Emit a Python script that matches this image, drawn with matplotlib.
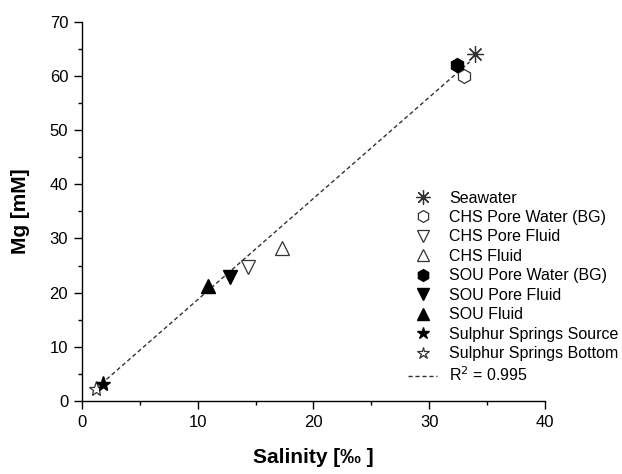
import numpy as np
import matplotlib.pyplot as plt
from matplotlib.ticker import MultipleLocator

plt.rcParams['font.family'] = ['Liberation Sans', 'DejaVu Sans']

# data (salinity in permil, Mg in mM)
labels = ['Seawater', 'CHS Pore Water (BG)', 'CHS Pore Fluid', 'CHS Fluid',
          'SOU Pore Water (BG)', 'SOU Pore Fluid', 'SOU Fluid',
          'Sulphur Springs Source', 'Sulphur Springs Bottom']
salinity = [34.0, 33.0, 14.3, 17.3, 32.4, 12.8, 10.9, 1.8, 1.2]
mg = [64.0, 60.0, 24.8, 28.2, 62.1, 22.8, 21.2, 3.1, 2.2]

# regression line end points
fit_x = [1.2, 33.5]
fit_y = [2.3, 62.6]
fit_label = r'R$^2$ = 0.995'

# marker style for each series
markers = [(8, 2, 0), 'h', 'v', '^', 'h', 'v', '^', '*', '*']
filled = [False, False, False, False, True, True, True, True, False]
sizes = [12, 10, 10, 10, 10, 10, 10, 11, 11]

fig = plt.figure(figsize=(6.22, 4.74), dpi=100)
ax = fig.add_axes([0.132, 0.154, 0.744, 0.800])

ax.plot(fit_x, fit_y, ls=(0, (3, 2)), color='#333333', lw=1.0, label=fit_label, zorder=1)

for i in range(len(labels)):
    if filled[i]:
        ax.plot(salinity[i], mg[i], ls='none', marker=markers[i], ms=sizes[i],
                mfc='black', mec='black', label=labels[i], zorder=3)
    else:
        ax.plot(salinity[i], mg[i], ls='none', marker=markers[i], ms=sizes[i],
                mfc='white' if i > 0 else 'none', mec='#333333', mew=0.9,
                label=labels[i], zorder=2)

ax.set_xlim(0, 40)
ax.set_ylim(0, 70)
ax.xaxis.set_major_locator(MultipleLocator(10))
ax.xaxis.set_minor_locator(MultipleLocator(5))
ax.yaxis.set_major_locator(MultipleLocator(10))
ax.yaxis.set_minor_locator(MultipleLocator(5))
ax.tick_params(which='major', direction='out', length=6, width=1, labelsize=12, pad=4)
ax.tick_params(which='minor', direction='out', length=3, width=1)
for s in ['top', 'right']:
    ax.spines[s].set_visible(False)
for s in ['left', 'bottom']:
    ax.spines[s].set_linewidth(1)

ax.set_xlabel('Salinity [‰ ]', fontsize=15, fontweight='bold', labelpad=13)
ax.set_ylabel('Mg [mM]', fontsize=15, fontweight='bold', labelpad=14)

# legend: markers first, fit line last
handles, leg_labels = ax.get_legend_handles_labels()
handles = handles[1:] + handles[:1]
leg_labels = leg_labels[1:] + leg_labels[:1]
ax.legend(handles, leg_labels, loc='upper left', bbox_to_anchor=(0.705, 0.555),
          frameon=False, fontsize=11.5, borderaxespad=0, borderpad=0,
          handlelength=1.8, handletextpad=0.75, labelspacing=0.28, markerscale=0.85)

plt.savefig('out.png', dpi=100)
